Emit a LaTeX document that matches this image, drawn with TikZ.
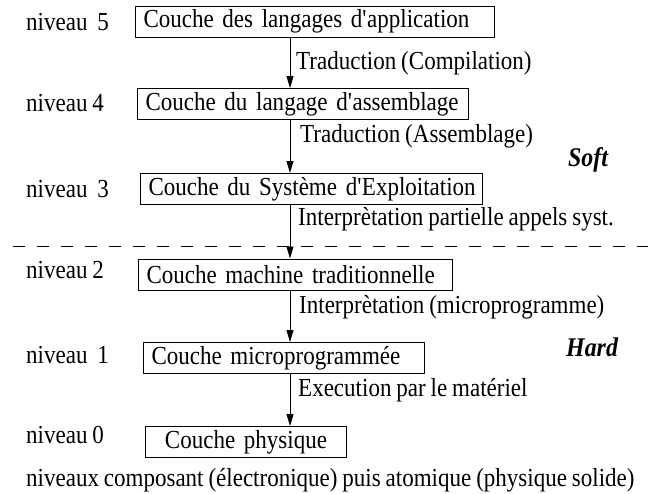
\documentclass[tikz,border=0pt]{standalone}
\usepackage{fontspec}
\setmainfont{Liberation Serif}[FakeStretch=0.885, WordSpace=0.85]
\usetikzlibrary{arrows.meta}
\newcommand{\apos}{\textquotesingle}
\begin{document}
\begin{tikzpicture}[x=1pt,y=1pt,
  every node/.style={font=\fontsize{26}{30}\selectfont},
  layer/.style={draw, line width=1pt, minimum height=31pt, inner xsep=8pt,
    inner ysep=0pt, anchor=west, align=left},
  lbl/.style={anchor=west, inner sep=0pt},
  flow/.style={line width=0.9pt, -{Triangle[length=12pt,width=7pt]}},
  side/.style={font=\fontsize{27}{30}\selectfont\bfseries\itshape,
    inner sep=0pt, anchor=west},
  sep/.style={line width=0.9pt, dash pattern=on 12pt off 12pt}]
\useasboundingbox (0,0) rectangle (671,-493);

% layers
\node[layer, text width=343pt] (b5) at (135,-21.5) {\mbox{Couche des langages d\apos application}};
\node[layer, text width=315pt] (b4) at (137,-104) {\mbox{Couche du langage d\apos assemblage}};
\node[layer, text width=326pt] (b3) at (140,-189) {\mbox{Couche du Syst\`eme d\apos Exploitation}};
\node[layer, text width=298pt] (b2) at (138,-274.5) {\mbox{Couche machine traditionnelle}};
\node[layer, text width=265pt] (b1) at (143,-358) {\mbox{Couche microprogramm\'ee}};
\node[layer, text width=185pt, align=center] (b0) at (145,-442) {\mbox{Couche physique}};

% level names
\node[lbl] (n5) at (26,-22) {niveau\ \ 5};
\node[lbl] (n4) at (26,-103) {niveau 4};
\node[lbl] (n3) at (26,-189) {niveau\ \ 3};
\node[lbl] (n2) at (26,-270) {niveau 2};
\node[lbl] (n1) at (26,-355) {niveau\ \ 1};
\node[lbl] (n0) at (26,-435) {niveau 0};

% soft / hard boundary
\coordinate (dl) at (13,-246);
\coordinate (dr) at (648,-246);
\draw[sep] (dl) -- (dr);
\node[side] (soft) at (568,-160) {Soft};
\node[side] (hard) at (566,-347) {Hard};

% transitions between layers
\coordinate (ax) at (290,0);
\draw[flow] (b5.south -| ax) -- (b4.north -| ax);
\draw[flow] (b4.south -| ax) -- (b3.north -| ax);
\draw[flow] (b3.south -| ax) -- (b2.north -| ax);
\draw[flow] (b2.south -| ax) -- (b1.north -| ax);
\draw[flow] (b1.south -| ax) -- (b0.north -| ax);

\node[lbl] (t54) at (296,-63) {Traduction (Compilation)};
\node[lbl] (t43) at (300,-136) {Traduction (Assemblage)};
\node[lbl] (t32) at (298,-219) {Interpr\`etation partielle appels syst.};
\node[lbl] (t21) at (299,-307) {Interpr\`etation (microprogramme)};
\node[lbl] (t10) at (298,-390) {Execution par le mat\'eriel};

\node[lbl] (foot) at (26,-480) {niveaux composant (\'electronique) puis atomique (physique solide)};
\end{tikzpicture}
\end{document}
